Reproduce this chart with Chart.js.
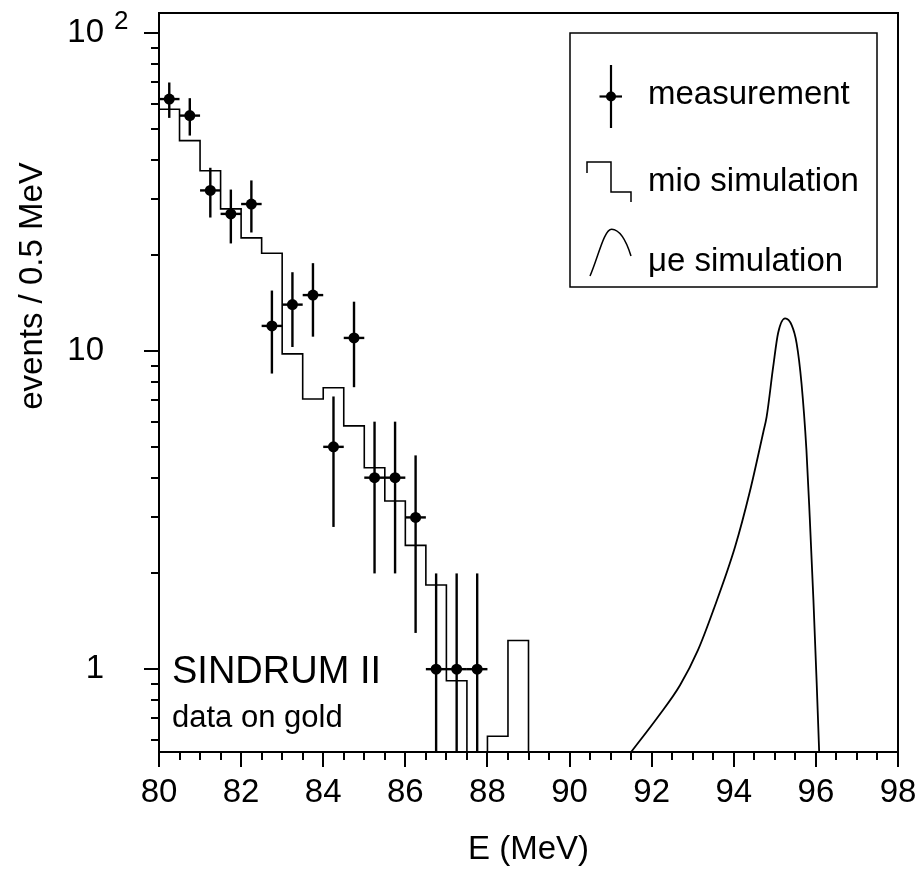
<!DOCTYPE html>
<html><head><meta charset="utf-8">
<script src="https://cdn.jsdelivr.net/npm/chart.js@4"></script>
<style>html,body{margin:0;padding:0;background:#fff;}#wrap{width:919px;height:870px;position:relative;}</style>
</head><body><div id="wrap"><canvas id="c" width="919" height="870"></canvas></div>
<script>
// ---------- data ----------
const measE   = [80.25, 80.75, 81.25, 81.75, 82.25, 82.75, 83.25, 83.75, 84.25, 84.75, 85.25, 85.75, 86.25, 86.75, 87.25, 87.75];
const measN   = [62, 55, 32, 27, 29, 12, 14, 15, 5, 11, 4, 4, 3, 1, 1, 1];
const measErr = [7.9, 7.4, 5.7, 5.2, 5.4, 3.5, 3.7, 3.9, 2.2, 3.3, 2.0, 2.0, 1.7, 1.0, 1.0, 1.0];
const binHalfWidth = 0.25;

const mioEdges  = [80, 80.5, 81, 81.5, 82, 82.5, 83, 83.5, 84, 84.5, 85, 85.5, 86, 86.5, 87, 87.5, 88, 88.5, 89];
const mioCounts = [57.6, 45.9, 36.9, 28.0, 22.7, 20.3, 9.8, 7.07, 7.67, 5.82, 4.30, 3.38, 2.45, 1.84, 0.92, 0, 0.615, 1.23, 0];

const mueE = [91.5, 92.16, 92.69, 93.13, 93.50, 94.03, 94.39, 94.72, 94.80, 94.96, 95.08, 95.25, 95.41, 95.53, 95.65, 95.77, 95.85, 95.94, 96.02, 96.08];
const mueY = [0, 0.71, 0.89, 1.15, 1.53, 2.42, 3.61, 5.57, 6.21, 8.93, 11.4, 12.67, 12.07, 10.6, 7.91, 4.88, 3.01, 1.65, 0.90, 0];

const xTicks = [80, 82, 84, 86, 88, 90, 92, 94, 96, 98];
const yTickValues = [1, 10, 100];
const yTickLabels = ['1', '10', '10'];
const yTickExps   = ['', '', '2'];
const yMinorValues = [0.6, 0.7, 0.8, 0.9, 2, 3, 4, 5, 6, 7, 8, 9, 20, 30, 40, 50, 60, 70, 80, 90];
const legendLabels = ['measurement', 'mio simulation', 'μe simulation'];
const yTitle = 'events / 0.5 MeV';
const xTitle = 'E (MeV)';
const noteTitle = 'SINDRUM II';
const noteSub = 'data on gold';

const X_MIN = 80, X_MAX = 98, Y_MIN = 0.549, Y_MAX = 115.6;
const FONT = '"Liberation Sans", Arial, Helvetica, sans-serif';

// ---------- datasets built from arrays ----------
const floorV = v => (v > 0 ? v : Y_MIN);
const mioData = mioEdges.map((e, i) => ({x: e, y: floorV(mioCounts[i])}));
const mueData = mueE.map((e, i) => ({x: e, y: floorV(mueY[i])}));
const measData = measE.map((e, i) => ({x: e, y: measN[i], err: measErr[i]}));

// ---------- plugin: frame, ticks, y labels, error bars, legend, notes ----------
const decor = {
  id: 'decor',
  beforeDatasetsDraw(chart) {
    const {ctx, chartArea: a, scales: {x, y}} = chart;
    ctx.save();
    ctx.beginPath(); ctx.rect(a.left, a.top, a.right - a.left, a.bottom - a.top); ctx.clip();
    ctx.strokeStyle = '#000'; ctx.lineWidth = 2.4; ctx.lineCap = 'butt';
    measData.forEach(p => {
      const px = x.getPixelForValue(p.x), py = y.getPixelForValue(p.y);
      const lo = p.y - p.err, hi = p.y + p.err;
      const pyLo = lo > Y_MIN ? y.getPixelForValue(lo) : a.bottom;
      const pyHi = y.getPixelForValue(hi);
      ctx.beginPath(); ctx.moveTo(px, pyLo); ctx.lineTo(px, pyHi); ctx.stroke();
      ctx.beginPath();
      ctx.moveTo(x.getPixelForValue(p.x - binHalfWidth), py);
      ctx.lineTo(x.getPixelForValue(p.x + binHalfWidth), py);
      ctx.stroke();
    });
    ctx.restore();
  },
  afterDraw(chart) {
    const {ctx, chartArea: a, scales: {x, y}} = chart;
    ctx.save();
    ctx.strokeStyle = '#000'; ctx.fillStyle = '#000';
    // frame
    ctx.lineWidth = 2;
    ctx.strokeRect(a.left, a.top, a.right - a.left, a.bottom - a.top);
    // x ticks
    for (let v = X_MIN; v <= X_MAX + 1e-9; v += 0.5) {
      const px = Math.round(x.getPixelForValue(v));
      const major = xTicks.includes(v);
      ctx.beginPath(); ctx.moveTo(px, a.bottom); ctx.lineTo(px, a.bottom + (major ? 15 : 8)); ctx.stroke();
    }
    // y ticks
    yTickValues.forEach(v => {
      const py = Math.round(y.getPixelForValue(v));
      ctx.beginPath(); ctx.moveTo(a.left, py); ctx.lineTo(a.left - 15, py); ctx.stroke();
    });
    yMinorValues.forEach(v => {
      const py = Math.round(y.getPixelForValue(v));
      ctx.beginPath(); ctx.moveTo(a.left, py); ctx.lineTo(a.left - 8, py); ctx.stroke();
    });
    // y labels
    yTickValues.forEach((v, i) => {
      const py = y.getPixelForValue(v);
      ctx.textAlign = 'right'; ctx.textBaseline = 'middle';
      ctx.font = '33px ' + FONT;
      ctx.fillText(yTickLabels[i], 104, py);
      if (yTickExps[i]) {
        ctx.textAlign = 'left'; ctx.textBaseline = 'alphabetic';
        ctx.font = '26px ' + FONT;
        ctx.fillText(yTickExps[i], 114, py - 4);
      }
    });
    // y title
    ctx.save();
    ctx.translate(33, 286); ctx.rotate(-Math.PI / 2);
    ctx.textAlign = 'center'; ctx.textBaseline = 'middle';
    ctx.font = '33px ' + FONT;
    ctx.fillText(yTitle, 0, 0);
    ctx.restore();
    // notes
    ctx.textAlign = 'left'; ctx.textBaseline = 'alphabetic';
    ctx.font = '38px ' + FONT;
    ctx.fillText(noteTitle, 172, 683);
    ctx.font = '31px ' + FONT;
    ctx.fillText(noteSub, 172, 727);
    // legend box
    ctx.lineWidth = 1.5;
    ctx.fillStyle = '#fff';
    ctx.fillRect(570, 33, 307, 254);
    ctx.strokeRect(570, 33, 307, 254);
    ctx.fillStyle = '#000';
    // measurement symbol
    ctx.lineWidth = 2.2;
    ctx.beginPath(); ctx.moveTo(611, 65); ctx.lineTo(611, 128); ctx.stroke();
    ctx.beginPath(); ctx.moveTo(599.5, 96.5); ctx.lineTo(622, 96.5); ctx.stroke();
    ctx.beginPath(); ctx.arc(611, 96.5, 5, 0, Math.PI * 2); ctx.fill();
    // mio symbol
    ctx.lineWidth = 1.5;
    ctx.beginPath();
    ctx.moveTo(587, 173); ctx.lineTo(587, 162); ctx.lineTo(611, 162); ctx.lineTo(611, 192);
    ctx.lineTo(631, 192); ctx.lineTo(631, 202); ctx.stroke();
    // mue symbol
    ctx.beginPath();
    ctx.moveTo(590, 276);
    ctx.bezierCurveTo(598, 258, 604, 229, 611.7, 229.3);
    ctx.bezierCurveTo(619, 229.6, 626, 240, 631, 256);
    ctx.stroke();
    // legend texts
    ctx.font = '33px ' + FONT;
    ctx.fillText(legendLabels[0], 648, 104);
    ctx.fillText(legendLabels[1], 648, 191);
    ctx.fillText(legendLabels[2], 648, 271);
    ctx.restore();
  }
};

Chart.defaults.font.family = FONT;
Chart.defaults.color = '#000';

new Chart(document.getElementById('c'), {
  type: 'scatter',
  data: {
    datasets: [
      {
        type: 'line', label: 'mio simulation', data: mioData, stepped: 'before',
        borderColor: '#000', borderWidth: 1.6, pointRadius: 0, fill: false, order: 2
      },
      {
        type: 'line', label: 'μe simulation', data: mueData, cubicInterpolationMode: 'monotone',
        borderColor: '#000', borderWidth: 1.8, pointRadius: 0, fill: false, order: 3
      },
      {
        type: 'scatter', label: 'measurement', data: measData,
        pointRadius: 5.5, pointBackgroundColor: '#000', pointBorderWidth: 0, order: 1
      }
    ]
  },
  options: {
    responsive: false, animation: false, devicePixelRatio: 1,
    layout: {padding: {top: 13, right: 21, left: 0, bottom: 0}},
    plugins: {legend: {display: false}, tooltip: {enabled: false}},
    scales: {
      x: {
        type: 'linear', min: X_MIN, max: X_MAX,
        afterBuildTicks: s => { s.ticks = xTicks.map(v => ({value: v})); },
        afterFit: s => { s.height = 118; s.paddingLeft = 0; s.paddingRight = 0; },
        grid: {display: false, drawTicks: false},
        border: {display: false},
        ticks: {font: {size: 33}, padding: 21, color: '#000', maxRotation: 0, autoSkip: false},
        title: {display: true, text: xTitle, font: {size: 33}, padding: {top: 0, bottom: 0}, color: '#000'}
      },
      y: {
        type: 'logarithmic', min: Y_MIN, max: Y_MAX,
        afterFit: s => { s.width = 159; s.paddingTop = 0; s.paddingBottom = 0; },
        grid: {display: false, drawTicks: false},
        border: {display: false},
        ticks: {display: false},
        title: {display: false}
      }
    }
  },
  plugins: [decor]
});
</script></body></html>
